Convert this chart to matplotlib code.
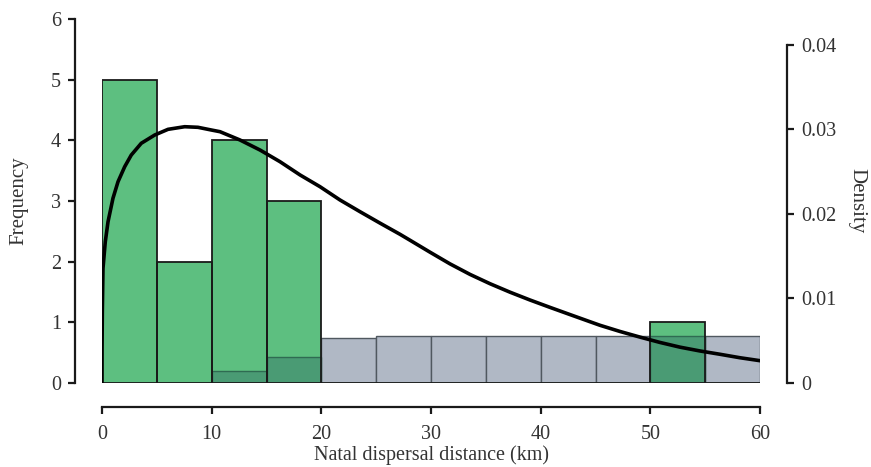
import numpy as np
import matplotlib
matplotlib.use("Agg")
import matplotlib.pyplot as plt

plt.rcParams['font.family'] = ['Liberation Serif', 'DejaVu Serif']

# Histogram bins (km)
bin_edges = [0, 5, 10, 15, 20, 25, 30, 35, 40, 45, 50, 55, 60]
observed_freq = [5, 2, 4, 3, 0, 0, 0, 0, 0, 0, 1, 0]
expected_freq = [0, 0, 0.19, 0.43, 0.74, 0.78, 0.78, 0.78, 0.78, 0.78, 0.78, 0.78]

# Fitted density curve
curve_x = [0.0, 0.005, 0.03, 0.09, 0.30, 0.55, 1.00, 1.46, 2.07, 2.67, 3.58, 4.81,
           6.02, 7.54, 8.75, 9.97, 10.76, 12.58, 14.41, 16.23, 18.06, 19.88, 21.70,
           23.53, 25.35, 27.17, 28.08, 29.91, 31.73, 33.56, 35.38, 37.20, 39.03,
           40.85, 42.67, 44.50, 45.41, 47.23, 49.06, 50.88, 52.71, 54.53, 56.35,
           58.17, 60.0]
curve_d = [0.0, 0.004, 0.0085, 0.01357, 0.01672, 0.01909, 0.02186, 0.02382, 0.0256,
           0.02698, 0.02837, 0.02935, 0.03002, 0.03033, 0.03026, 0.02994, 0.02974,
           0.02876, 0.02757, 0.02619, 0.02462, 0.02323, 0.02166, 0.02027, 0.01892,
           0.01760, 0.01690, 0.01548, 0.01410, 0.01285, 0.01175, 0.01075, 0.00982,
           0.00895, 0.00810, 0.00725, 0.00683, 0.00610, 0.00543, 0.00480, 0.00424,
           0.00379, 0.00340, 0.00299, 0.00264]

W, H = 871, 467
fig = plt.figure(figsize=(W / 100, H / 100), dpi=100)
ax = fig.add_axes([102 / W, 1 - 383 / H, (760 - 102) / W, (383 - 19) / H])

left = np.array(bin_edges[:-1])
width = np.diff(bin_edges)
obs = np.array(observed_freq)
exp_ = np.array(expected_freq)
overlap = np.minimum(obs, exp_)

green = '#5dbf80'
dark = '#4a9b74'
grey = '#b0b8c5'

ax.bar(left, exp_, width=width, align='edge', color=grey, edgecolor='#505860', linewidth=1.0, zorder=1)
ax.bar(left, obs, width=width, align='edge', color=green, edgecolor='none', linewidth=0, zorder=2)
ax.bar(left, overlap, width=width, align='edge', color=dark, edgecolor='#2f6b52', linewidth=1.0, zorder=3)
ax.bar(left, obs, width=width, align='edge', facecolor='none', edgecolor='#1a1a1a', linewidth=1.3, zorder=4)

ax.set_xlim(0, 60)
ax.set_ylim(0, 6)
ax.set_xticks(range(0, 61, 10))
ax.set_yticks(range(0, 7))

ax2 = ax.twinx()
ax2.plot(curve_x, curve_d, color='black', linewidth=2.6, zorder=10,
         solid_capstyle='round', solid_joinstyle='round')
ax2.set_ylim(0, 0.04 * 364 / 338)
ax2.set_yticks([0, 0.01, 0.02, 0.03, 0.04])
ax2.set_yticklabels(['0', '0.01', '0.02', '0.03', '0.04'])
ax.set_zorder(0)
ax2.set_zorder(1)
ax2.patch.set_visible(False)

for a in (ax, ax2):
    a.spines['top'].set_visible(False)

ax.spines['right'].set_visible(False)
ax.spines['left'].set_position(('outward', 19.5))
ax.spines['bottom'].set_position(('outward', 17.5))
ax.spines['left'].set_bounds(0, 6)
ax.spines['bottom'].set_bounds(0, 60)
ax2.spines['left'].set_visible(False)
ax2.spines['bottom'].set_visible(False)
ax2.spines['right'].set_position(('outward', 19.5))
ax2.spines['right'].set_bounds(0, 0.04)

for sp in [ax.spines['left'], ax.spines['bottom'], ax2.spines['right']]:
    sp.set_linewidth(1.6)
    sp.set_color('#1a1a1a')

ax.tick_params(axis='y', length=5, width=1.6, colors='#1a1a1a', labelsize=14.5,
               labelcolor='#333333', pad=5)
ax.tick_params(axis='x', length=5, width=1.6, colors='#1a1a1a', labelsize=14.5,
               labelcolor='#333333', pad=8)
ax2.tick_params(axis='y', length=5, width=1.6, colors='#1a1a1a', labelsize=14.5,
                labelcolor='#333333', pad=5)

ax.set_xlabel('Natal dispersal distance (km)', fontsize=14.5, color='#333333', labelpad=1)
ax.set_ylabel('Frequency', fontsize=15, color='#333333', labelpad=16)
ax2.set_ylabel('Density', fontsize=15, color='#333333', rotation=270, labelpad=22)

fig.savefig('out.png', dpi=100)
